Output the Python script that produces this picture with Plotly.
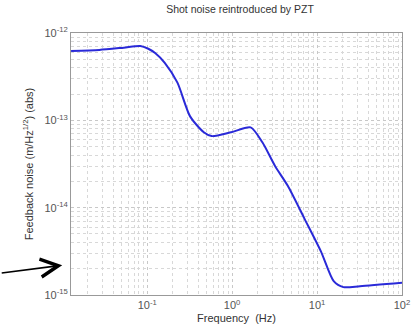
import plotly.graph_objects as go

freq_hz = [0.0127, 0.0273, 0.053, 0.083, 0.103, 0.124, 0.161, 0.227, 0.32, 0.464,
           0.574, 0.975, 1.65, 2.27, 3.2, 4.52, 7.1, 11.1, 15.7, 20.4, 32, 100]
noise = [6.24e-13, 6.4e-13, 6.8e-13, 7.1e-13, 6.6e-13, 5.9e-13, 4.56e-13, 2.7e-13,
         1.11e-13, 7.3e-14, 6.6e-14, 7.3e-14, 8.3e-14, 5.6e-14, 3.0e-14, 1.78e-14,
         7.5e-15, 3.16e-15, 1.44e-15, 1.23e-15, 1.26e-15, 1.38e-15]

x_tickvals = [0.1, 1, 10, 100]
x_ticktext = ["10<sup>-1</sup>", "10<sup>0</sup>", "10<sup>1</sup>", "10<sup>2</sup>"]
y_tickvals = [1e-15, 1e-14, 1e-13, 1e-12]
y_ticktext = ["10<sup>-15</sup>", "10<sup>-14</sup>", "10<sup>-13</sup>", "10<sup>-12</sup>"]

fig = go.Figure()
fig.add_trace(go.Scatter(x=freq_hz, y=noise, mode="lines",
                         line=dict(color="#2a2ad8", width=2, shape="spline", smoothing=0.7)))

grid = dict(showgrid=True, gridcolor="#c8c8c8", gridwidth=1, griddash="dot")
fig.update_xaxes(type="log", range=[-1.897, 2], tickvals=x_tickvals, ticktext=x_ticktext,
                 showline=True, linecolor="#999", linewidth=1, mirror=True,
                 ticks="", zeroline=False, **grid,
                 minor=dict(dtick="D1", showgrid=True, gridcolor="#d8d8d8", griddash="dot", ticks=""),
                 tickfont=dict(family="Liberation Sans", size=11, color="#555"),
                 title=dict(text="Frequency  (Hz)", standoff=4,
                            font=dict(family="Liberation Sans", size=11, color="#333")))
fig.update_yaxes(type="log", range=[-15, -12], tickvals=y_tickvals, ticktext=y_ticktext,
                 showline=True, linecolor="#999", linewidth=1, mirror=True,
                 ticks="", zeroline=False, **grid,
                 minor=dict(dtick="D1", showgrid=True, gridcolor="#d8d8d8", griddash="dot", ticks=""),
                 tickfont=dict(family="Liberation Sans", size=11, color="#555"),
                 title=dict(text="Feedback noise (m/Hz<sup>1/2</sup>) (abs)", standoff=8,
                            font=dict(family="Liberation Sans", size=11, color="#333")))

fig.add_annotation(xref="paper", yref="paper", x=-9/339, y=(297-267)/264,
                   ax=-62, ay=8, showarrow=True, arrowhead=5, arrowsize=2.2,
                   arrowwidth=1.6, arrowcolor="black", text="")

fig.update_layout(
    width=418, height=331,
    margin=dict(l=71, r=8, t=33, b=34),
    paper_bgcolor="white", plot_bgcolor="white",
    showlegend=False,
    title=dict(text="Shot noise reintroduced by PZT", x=240/418, xanchor="center",
               y=1 - 9/331, yanchor="middle",
               font=dict(family="Liberation Sans", size=10.5, color="#333")),
)
fig.write_html("out.html")
